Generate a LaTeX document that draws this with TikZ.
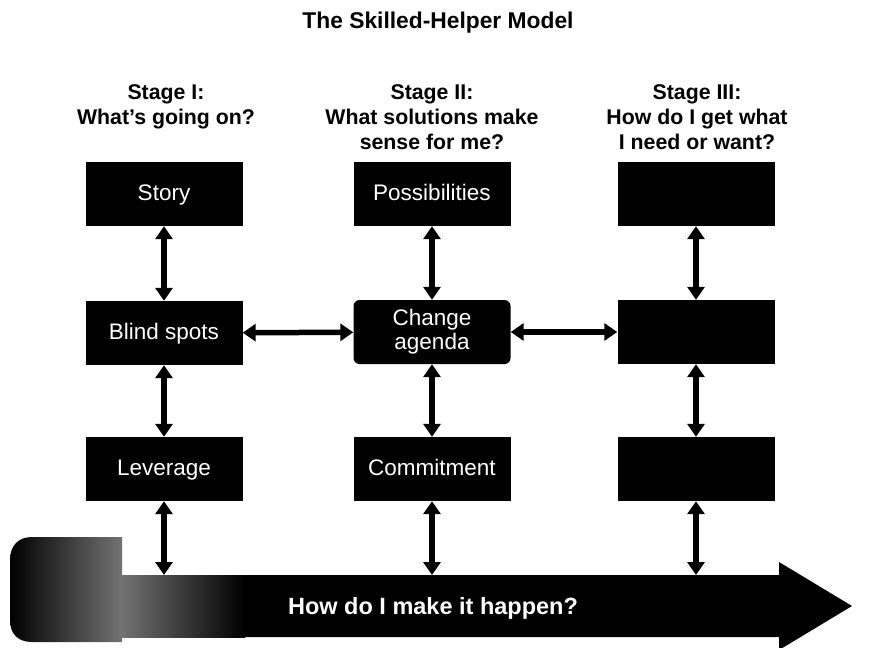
\documentclass[tikz,border=0pt]{standalone}
\usepackage{fontspec}
\setmainfont{Liberation Sans}
\usetikzlibrary{arrows.meta}

\begin{document}
\begin{tikzpicture}[x=1pt,y=-1pt]
\tikzset{>={Triangle[width=17pt,length=13pt]}}
\tikzstyle{stage} =[fill=black, text=white, minimum width=157pt, minimum height=64pt, inner sep=0pt, text height=16pt, text depth=4pt, font=\fontsize{22.5}{25}\selectfont]
\tikzstyle{head} =[align=center, anchor=north, inner sep=0pt, font=\bfseries\fontsize{21.3}{25}\selectfont]
\tikzstyle{link} =[<->, line width=5.5pt]

\useasboundingbox (0,0) rectangle (887,648);

\node[font=\bfseries\fontsize{22.8}{26}\selectfont, anchor=north, inner sep=0pt](title) at (438,12){The Skilled-Helper Model};

\node[head](h1) at (166,84){Stage I:\\What's going on?};
\node[head](h2) at (432,84){Stage II:\\What solutions make\\sense for me?};
\node[head](h3) at (697,84){Stage III:\\How do I get what\\I need or want?};

% the curl and the big arrow
\shade[left color=black, right color=black!55] (122,537) -- (32,537) .. controls (18,537) and (10,546) .. (10,560) -- (10,620) .. controls (10,634) and (18,642) .. (32,642) -- (122,642) -- cycle;
\fill (122,575) -- (779,575) -- (779,562) -- (852,606) -- (779,650) -- (779,637) -- (122,637) -- cycle;
\shade[left color=black!55, right color=black] (121,575) rectangle (245,637);
\node[text=white, font=\bfseries\fontsize{23.5}{26}\selectfont, anchor=base](goal) at (433,614){How do I make it happen?};

\node[stage](s1) at (164,194){Story};
\node[stage](s2) at (432,194){Possibilities};
\node[stage](s3) at (696,194){};
\node[stage](b1) at (164,333){Blind spots};
\node[stage, rounded corners=6pt, align=center, text height=, text depth=, font=\fontsize{22.5}{24}\selectfont](b2) at (432,332){Change\\agenda};
\node[stage](b3) at (696,332){};
\node[stage](l1) at (164,469){Leverage};
\node[stage](l2) at (432,469){Commitment};
\node[stage](l3) at (696,469){};

\coordinate (e1) at (164,575);
\coordinate (e2) at (432,575);
\coordinate (e3) at (696,575);

\draw[link] (s1) -- (b1);
\draw[link] (b1) -- (l1);
\draw[link] (l1) -- (e1);
\draw[link] (s2) -- (b2);
\draw[link] (b2) -- (l2);
\draw[link] (l2) -- (e2);
\draw[link] (s3) -- (b3);
\draw[link] (b3) -- (l3);
\draw[link] (l3) -- (e3);

\draw[link] (b1) -- (b2);
\draw[link] (b2) -- (b3);
\end{tikzpicture}
\end{document}
